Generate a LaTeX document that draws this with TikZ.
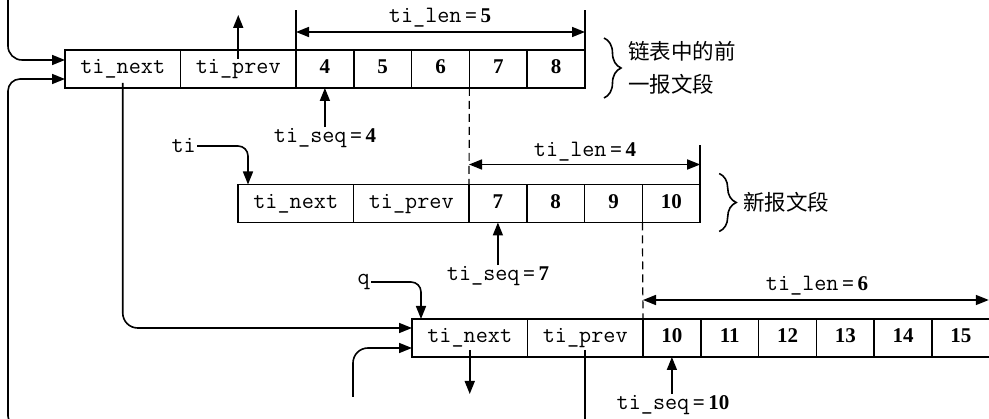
\documentclass[tikz,border=0pt]{standalone}
\usepackage{fontspec}
\setmainfont{Liberation Serif}
\newfontfamily\cjkf{Noto Sans CJK SC}
\usetikzlibrary{arrows.meta,decorations.pathreplacing}
\newcommand\myeq[1]{{\fontsize{21}{24}\selectfont\rmfamily\bfseries\,=\,#1}}
\begin{document}
\begin{tikzpicture}[x=1pt,y=-1pt,
  box/.style={draw, line width=1.5pt, inner sep=0pt, outer sep=0pt, anchor=west, minimum height=38pt, text height=14pt, text depth=4pt},
  hdr/.style={box, minimum width=115.5pt, font=\ttfamily\fontsize{23.5}{26}\selectfont},
  cell/.style={box, minimum width=57.8pt, font=\bfseries\fontsize{21}{24}\selectfont},
  lbl/.style={inner sep=1pt, font=\ttfamily\fontsize{23.5}{26}\selectfont},
  conn/.style={line width=1.6pt, -{Triangle[length=13pt,width=10pt]}},
  dimarr/.style={line width=1.6pt, {Triangle[length=13pt,width=10pt]}-{Triangle[length=13pt,width=10pt]}},
  dimline/.style={line width=1.6pt},
  dashline/.style={line width=1.2pt, dash pattern=on 8pt off 5pt},
  brc/.style={decorate, decoration={brace, amplitude=17pt}, line width=1.6pt},
  cjkt/.style={font=\cjkf\fontsize{21.5}{33}\selectfont, align=left, inner sep=0pt, anchor=west}
]
\useasboundingbox (0,0) rectangle (989,419);

% row 1
\node[hdr] (r1n) at (65,69) {ti\_next};
\node[hdr] (r1p) at (r1n.east) {ti\_prev};
\node[cell] (r1a) at (r1p.east) {4};
\node[cell] (r1b) at (r1a.east) {5};
\node[cell] (r1c) at (r1b.east) {6};
\node[cell] (r1d) at (r1c.east) {7};
\node[cell] (r1e) at (r1d.east) {8};

% row 2
\node[hdr] (r2n) at (238,203.5) {ti\_next};
\node[hdr] (r2p) at (r2n.east) {ti\_prev};
\node[cell] (r2a) at (r2p.east) {7};
\node[cell] (r2b) at (r2a.east) {8};
\node[cell] (r2c) at (r2b.east) {9};
\node[cell] (r2d) at (r2c.east) {10};

% row 3
\node[hdr] (r3n) at (412,338) {ti\_next};
\node[hdr] (r3p) at (r3n.east) {ti\_prev};
\node[cell] (r3a) at (r3p.east) {10};
\node[cell] (r3b) at (r3a.east) {11};
\node[cell] (r3c) at (r3b.east) {12};
\node[cell] (r3d) at (r3c.east) {13};
\node[cell] (r3e) at (r3d.east) {14};
\node[cell] (r3f) at (r3e.east) {15};

% dimension: row 1
\draw[dimline] (r1a.north west) -- ([yshift=40pt]r1a.north west);
\draw[dimline] (r1e.north east) -- ([yshift=40pt]r1e.north east);
\draw[dimarr] ([yshift=18pt]r1a.north west) -- ([yshift=18pt]r1e.north east);
\node[lbl] (len1) at (440,18) {ti\_len\myeq{5}};

% dimension: row 2
\draw[dashline] (r1d.south west) -- (r2a.north west);
\draw[dimline] (r2d.north east) -- ([yshift=39pt]r2d.north east);
\draw[dimarr] ([yshift=20pt]r2a.north west) -- ([yshift=20pt]r2d.north east);
\node[lbl] (len2) at (585,152) {ti\_len\myeq{4}};

% dimension: row 3
\draw[dashline] (r2d.south west) -- (r3a.north west);
\draw[dimarr] ([yshift=19pt]r3a.north west) -- ([xshift=-1pt,yshift=19pt]r3f.north east);
\node[lbl] (len3) at (817,286) {ti\_len\myeq{6}};

% seq labels
\node[lbl] (s1) at (325,138) {ti\_seq\myeq{4}};
\draw[conn] (r1a.south |- s1.north) -- (r1a.south);
\node[lbl] (s2) at (498,276) {ti\_seq\myeq{7}};
\draw[conn] (r2a.south |- s2.north) -- (r2a.south);
\node[lbl] (s3) at (673,405) {ti\_seq\myeq{10}};
\draw[conn] (r3a.south |- s3.north) -- (r3a.south);

% braces
\draw[brc] ([xshift=19pt,yshift=12pt]r1e.north east) -- ([xshift=19pt,yshift=-10pt]r1e.south east);
\node[cjkt] (t1) at (628,68) {链表中的前\\一报文段};
\draw[brc] ([xshift=19pt,yshift=11pt]r2d.north east) -- ([xshift=19pt,yshift=-9pt]r2d.south east);
\node[cjkt] (t2) at (743,202) {新报文段};

% pointers
\coordinate (tlin) at (8,-2);
\draw[conn, rounded corners=14pt] (tlin) |- ([yshift=9pt]r1n.west);
\coordinate (blin) at (60,428);
\draw[conn, rounded corners=12pt] (blin) -| ([xshift=-57pt,yshift=-10pt]r1n.west) -- ([yshift=-10pt]r1n.west);
\coordinate (up1) at (238.25,15);
\draw[conn] ([yshift=10pt]r1p.center) -- (up1);
\draw[conn, rounded corners=15pt] ([yshift=-14pt]r1n.center) |- ([yshift=10pt]r3n.west);
\coordinate (b3in) at (353,397);
\draw[conn, rounded corners=15pt] (b3in) |- ([yshift=-10pt]r3n.west);

\node[lbl, anchor=east] (q) at (371,282) {q};
\draw[conn, rounded corners=10pt] (q.east) -| ([xshift=9pt]r3n.north west);
\node[lbl, anchor=east] (ti) at (197,146) {ti};
\draw[conn, rounded corners=10pt] (ti.east) -| ([xshift=10pt]r2n.north west);

\coordinate (d3) at (469.75,394);
\draw[conn] ([yshift=-12pt]r3n.center) -- (d3);
\coordinate (pdown) at (585.25,425);
\draw[line width=1.6pt] ([yshift=-12pt]r3p.center) -- (pdown);
\end{tikzpicture}
\end{document}
